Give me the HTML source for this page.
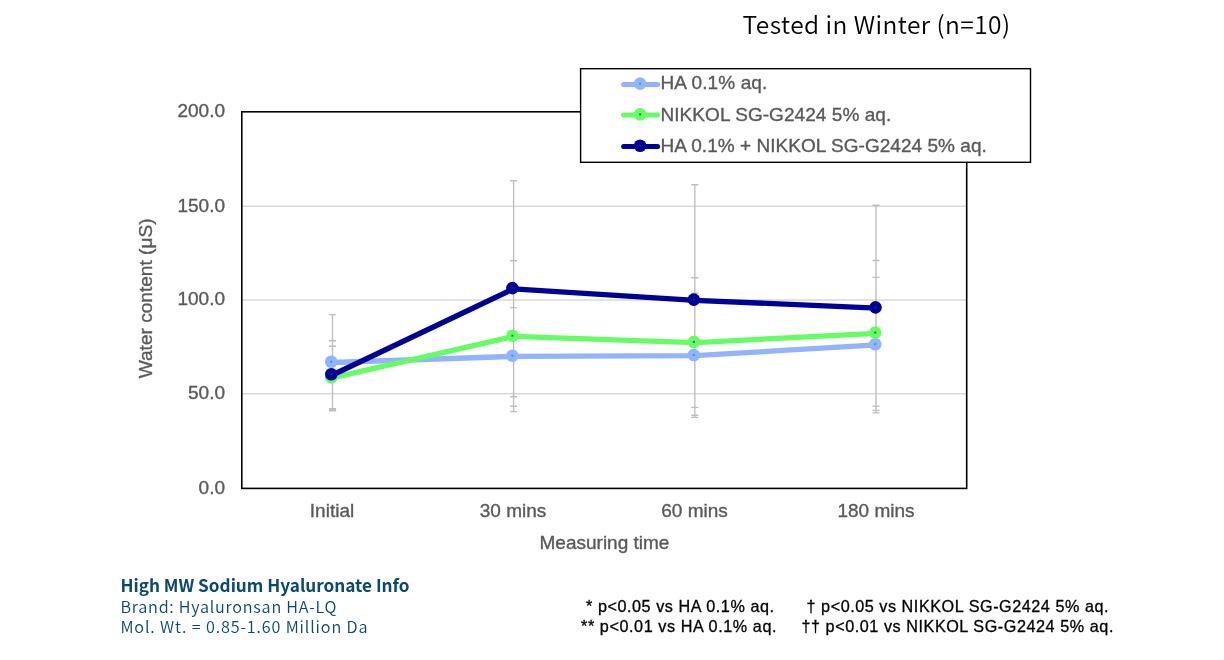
<!DOCTYPE html>
<html>
<head>
<meta charset="utf-8">
<style>
html,body{margin:0;padding:0;background:#fff;}
body{width:1224px;height:660px;overflow:hidden;position:relative;}
svg{position:absolute;left:0;top:0;will-change:transform;}
.ax{font-family:"Liberation Sans",Arial,sans-serif;font-size:19px;fill:#595959;stroke:#595959;stroke-width:0.35px;}
.fn{font-family:"Liberation Sans",Arial,sans-serif;font-size:16.2px;fill:#000;stroke:#000;stroke-width:0.3px;}
</style>
</head>
<body>
<svg width="1224" height="660" viewBox="0 0 1224 660">
  <text x="742.6" y="34" style="font-family:'Noto Sans CJK JP',sans-serif;font-size:24.5px;font-weight:350;fill:#000" textLength="267.5" lengthAdjust="spacing">Tested in Winter (n=10)</text>

  <g stroke="#d9d9d9" stroke-width="1.5">
    <line x1="242" y1="206.2" x2="966.7" y2="206.2"/>
    <line x1="242" y1="300" x2="966.7" y2="300"/>
    <line x1="242" y1="393.7" x2="966.7" y2="393.7"/>
  </g>

  <g class="ax" text-anchor="end">
    <text x="225" y="117">200.0</text>
    <text x="225" y="211.8">150.0</text>
    <text x="225" y="305.3">100.0</text>
    <text x="225" y="399.3">50.0</text>
    <text x="225" y="493.5">0.0</text>
  </g>

  <g class="ax" text-anchor="middle">
    <text x="332" y="517">Initial</text>
    <text x="513" y="517">30 mins</text>
    <text x="694.5" y="517">60 mins</text>
    <text x="876" y="517">180 mins</text>
    <text x="604.5" y="549">Measuring time</text>
  </g>
  <text class="ax" text-anchor="middle" style="font-size:19.1px" transform="translate(151.5,298.4) rotate(-90)">Water content (μS)</text>

  <g stroke="#bfbfbf" stroke-width="1.4" fill="none"><line x1="332.5" y1="314.6" x2="332.5" y2="410.7"/><path d="M328.9 314.6h7.2M328.9 340.7h7.2M328.9 346.3h7.2M328.9 408.7h7.2M328.9 409.7h7.2M328.9 410.7h7.2"/><line x1="513.6" y1="180.8" x2="513.6" y2="411.6"/><path d="M510.0 180.8h7.2M510.0 260.8h7.2M510.0 307.6h7.2M510.0 396.8h7.2M510.0 406.3h7.2M510.0 411.6h7.2"/><line x1="694.8" y1="184.8" x2="694.8" y2="417.4"/><path d="M691.2 184.8h7.2M691.2 277.7h7.2M691.2 293.3h7.2M691.2 407.4h7.2M691.2 415.3h7.2M691.2 417.4h7.2"/><line x1="876.0" y1="205.3" x2="876.0" y2="412.9"/><path d="M872.4 205.3h7.2M872.4 260.5h7.2M872.4 277.4h7.2M872.4 406.1h7.2M872.4 410.4h7.2M872.4 412.9h7.2"/></g>

  <g fill="none" stroke-width="5.3" stroke-linejoin="round" stroke-linecap="round">
    <polyline stroke="#94b3fd" points="332.3,362.5 513.5,356.4 694.9,355.7 876.3,344.9"/>
    <polyline stroke="#66fc66" points="332.3,377.9 513.5,336.4 694.9,342.6 876.3,333.3"/>
    <polyline stroke="#000096" points="332.4,375.0 513.5,288.8 694.9,300.3 876.6,308.1"/>
  </g>
  <g><circle cx="331.2" cy="361.8" r="6.3" fill="#94b3fd"/><rect x="330.2" y="360.8" width="2" height="2" fill="#08b0f0"/><circle cx="512.4" cy="355.7" r="6.3" fill="#94b3fd"/><rect x="511.4" y="354.7" width="2" height="2" fill="#08b0f0"/><circle cx="693.8" cy="355.0" r="6.3" fill="#94b3fd"/><rect x="692.8" y="354.0" width="2" height="2" fill="#08b0f0"/><circle cx="875.2" cy="344.2" r="6.3" fill="#94b3fd"/><rect x="874.2" y="343.2" width="2" height="2" fill="#08b0f0"/><circle cx="331.2" cy="377.2" r="6.3" fill="#66fc66"/><rect x="330.2" y="376.2" width="2" height="2" fill="#0e8a3c"/><circle cx="512.4" cy="335.7" r="6.3" fill="#66fc66"/><rect x="511.4" y="334.7" width="2" height="2" fill="#0e8a3c"/><circle cx="693.8" cy="341.9" r="6.3" fill="#66fc66"/><rect x="692.8" y="340.9" width="2" height="2" fill="#0e8a3c"/><circle cx="875.2" cy="332.6" r="6.3" fill="#66fc66"/><rect x="874.2" y="331.6" width="2" height="2" fill="#0e8a3c"/><circle cx="331.3" cy="374.3" r="6.3" fill="#000096"/><rect x="330.3" y="373.3" width="2" height="2" fill="#083a4a"/><circle cx="512.4" cy="288.1" r="6.3" fill="#000096"/><rect x="511.4" y="287.1" width="2" height="2" fill="#083a4a"/><circle cx="693.8" cy="299.6" r="6.3" fill="#000096"/><rect x="692.8" y="298.6" width="2" height="2" fill="#083a4a"/><circle cx="875.5" cy="307.4" r="6.3" fill="#000096"/><rect x="874.5" y="306.4" width="2" height="2" fill="#083a4a"/></g>

  <rect x="241.8" y="111.8" width="724.9" height="376.6" fill="none" stroke="#000" stroke-width="1.6"/>

  <rect x="580.6" y="68.7" width="449.9" height="93.6" fill="#fff" stroke="#000" stroke-width="1.4"/>
  <g stroke-width="5" stroke-linecap="round">
    <line x1="623.6" y1="84.4" x2="657.6" y2="84.4" stroke="#94b3fd"/>
    <line x1="623.6" y1="115.1" x2="657.6" y2="115.1" stroke="#66fc66"/>
    <line x1="623.6" y1="146.5" x2="657.6" y2="146.5" stroke="#000096"/>
  </g>
  <circle cx="640.1" cy="83.6" r="6.3" fill="#94b3fd"/><rect x="639.1" y="82.6" width="2" height="2" fill="#08b0f0"/><circle cx="640.1" cy="114.4" r="6.3" fill="#66fc66"/><rect x="639.1" y="113.4" width="2" height="2" fill="#0e8a3c"/><circle cx="640.1" cy="145.7" r="6.3" fill="#000096"/><rect x="639.1" y="144.7" width="2" height="2" fill="#083a4a"/>
  <g class="ax">
    <text x="660.5" y="89.2" textLength="106.8" lengthAdjust="spacing">HA 0.1% aq.</text>
    <text x="660.5" y="120.7" textLength="230.7" lengthAdjust="spacing">NIKKOL SG-G2424 5% aq.</text>
    <text x="660.5" y="151.8" textLength="326.3" lengthAdjust="spacing">HA 0.1% + NIKKOL SG-G2424 5% aq.</text>
  </g>

  <g style="font-family:'Liberation Sans','Noto Sans CJK JP',sans-serif;fill:#0b4a6c">
    <text x="120.5" y="591.7" style="font-family:'Noto Sans CJK JP',sans-serif;font-size:17.2px;font-weight:bold" textLength="289" lengthAdjust="spacing">High MW Sodium Hyaluronate Info</text>
    <text x="120.5" y="613.3" style="font-family:'Noto Sans CJK JP',sans-serif;font-size:16.2px;font-weight:350" textLength="216" lengthAdjust="spacing">Brand: Hyaluronsan HA-LQ</text>
    <text x="120.5" y="633.3" style="font-family:'Noto Sans CJK JP',sans-serif;font-size:16.2px;font-weight:350" textLength="247" lengthAdjust="spacing">Mol. Wt. = 0.85-1.60 Million Da</text>
  </g>

  <g class="fn">
    <text x="586" y="611.8" textLength="188" lengthAdjust="spacing">* p&lt;0.05 vs HA 0.1% aq.</text>
    <text x="581" y="631.8" textLength="195.5" lengthAdjust="spacing">** p&lt;0.01 vs HA 0.1% aq.</text>
    <text x="806.5" y="611.8" textLength="302" lengthAdjust="spacing">† p&lt;0.05 vs NIKKOL SG-G2424 5% aq.</text>
    <text x="801.4" y="631.8" textLength="312" lengthAdjust="spacing">†† p&lt;0.01 vs NIKKOL SG-G2424 5% aq.</text>
  </g>
</svg>
</body>
</html>
